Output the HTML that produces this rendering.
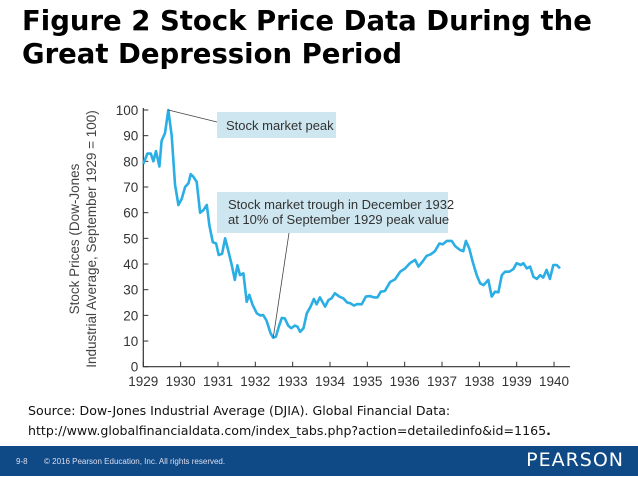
<!DOCTYPE html>
<html><head><meta charset="utf-8">
<style>
html,body{margin:0;padding:0;background:#fff;}
body{width:638px;height:479px;position:relative;overflow:hidden;}
.title{position:absolute;left:22px;top:5px;font-family:"DejaVu Sans","Liberation Sans",sans-serif;font-weight:bold;font-size:27.5px;line-height:33px;color:#000;margin:0;white-space:nowrap;}
.src{position:absolute;left:28px;top:401px;font-family:"DejaVu Sans","Liberation Sans",sans-serif;font-size:12.6px;line-height:20px;color:#111;white-space:nowrap;}
.footer{position:absolute;left:0;top:446px;width:638px;height:30px;background:#0f4a86;}
.pn{position:absolute;left:16px;top:11px;font-family:"Liberation Sans",sans-serif;font-size:8px;color:#dde;}
.copy{position:absolute;left:44px;top:11px;font-family:"Liberation Sans",sans-serif;font-size:8px;color:#dde;}
.logo{position:absolute;right:14px;top:3px;font-family:"DejaVu Sans","Liberation Sans",sans-serif;font-size:19px;color:#fff;letter-spacing:1px;}
</style></head><body>
<h1 class="title">Figure 2 Stock Price Data During the<br>Great Depression Period</h1>
<svg id="chart" width="638" height="400" style="position:absolute;left:0;top:0" font-family="Liberation Sans, sans-serif"></svg>
<div class="src">Source: Dow-Jones Industrial Average (DJIA). Global Financial Data:<br>http://www.globalfinancialdata.com/index_tabs.php?action=detailedinfo&amp;id=1165<b>.</b></div>
<div class="footer">
<span class="pn">9-8</span>
<span class="copy">© 2016 Pearson Education, Inc. All rights reserved.</span>
<span class="logo">PEARSON</span>
</div>
<script>
const years = [1929.00,1929.11,1929.20,1929.27,1929.34,1929.43,1929.49,1929.58,1929.67,1929.76,1929.85,1929.94,1930.03,1930.12,1930.21,1930.27,1930.34,1930.43,1930.52,1930.61,1930.70,1930.77,1930.86,1930.95,1931.02,1931.11,1931.19,1931.28,1931.37,1931.45,1931.52,1931.59,1931.68,1931.77,1931.84,1931.93,1932.04,1932.13,1932.21,1932.30,1932.41,1932.48,1932.55,1932.63,1932.71,1932.79,1932.88,1932.96,1933.06,1933.13,1933.20,1933.29,1933.38,1933.48,1933.57,1933.64,1933.73,1933.87,1933.96,1934.04,1934.13,1934.25,1934.36,1934.46,1934.55,1934.64,1934.73,1934.85,1934.96,1935.07,1935.18,1935.27,1935.36,1935.47,1935.61,1935.74,1935.88,1936.01,1936.14,1936.28,1936.37,1936.48,1936.59,1936.70,1936.81,1936.93,1937.02,1937.13,1937.26,1937.35,1937.48,1937.57,1937.64,1937.73,1937.82,1937.93,1938.02,1938.11,1938.24,1938.33,1938.42,1938.51,1938.60,1938.69,1938.80,1938.91,1939.00,1939.11,1939.18,1939.27,1939.36,1939.45,1939.54,1939.63,1939.71,1939.80,1939.89,1939.98,1940.07,1940.16];
const prices = [79,83,83,80,84,78,88,91,100,90,71,63,65.5,70,71.5,75,74,72,60,61,63,55,48.5,48,43.5,44,50,45,39.5,33.8,39.5,35.7,36.4,25.3,28,24,20.8,20,20.1,18,13,11.3,11.7,15.6,19,18.8,16,15,16,15.6,13.6,15,20.8,23.4,26.4,24.3,27,23.4,26,26.6,28.6,27.3,26.6,25,24.7,23.8,24.4,24.3,27.3,27.5,27,27,29.2,29.5,33,34,37,38.3,40.3,41.6,39,41,43.2,43.8,45,48,47.7,49,49,47,45.5,45,49,46,41,35.7,32.5,31.8,33.8,27.3,29.2,29,35.7,37,37,38,40.3,39.6,40.3,38.3,39,35,34.2,35.7,34.7,37.7,34.2,39.6,39.6,38.3];
const yTicks = [0,10,20,30,40,50,60,70,80,90,100];
const xTicks = [1929,1930,1931,1932,1933,1934,1935,1936,1937,1938,1939,1940];
const NS = 'http://www.w3.org/2000/svg';
const svg = document.getElementById('chart');
const x = v => 143.3 + (v - 1929) * 37.34;
const y = v => 366.7 - v * 2.567;
function mk(tag, attrs, parent){const e=document.createElementNS(NS,tag);for(const k in attrs)e.setAttribute(k,attrs[k]);(parent||svg).appendChild(e);return e;}
const b1 = mk('rect',{x:217,y:112,width:119,height:26,fill:'#cde6ef'});


const t1 = mk('text',{x:226,y:130,'font-size':13,fill:'#333'}); t1.textContent='Stock market peak';


const b2 = mk('rect',{x:217,y:192,width:231,height:41,fill:'#cde6ef'});


const t2 = mk('text',{x:228,y:209,'font-size':13,fill:'#333'}); t2.textContent='Stock market trough in December 1932';


const t3 = mk('text',{x:228,y:224,'font-size':13,fill:'#333'}); t3.textContent='at 10% of September 1929 peak value';


const ax = mk('path',{d:`M${x(1929)} ${y(100)-2} V${y(0)} H570`,stroke:'#333','stroke-width':1.2,fill:'none'});


yTicks.forEach(v=>{
  const tk = mk('line',{x1:x(1929),x2:x(1929)+5,y1:y(v),y2:y(v),stroke:'#333','stroke-width':1});
  
  
  const tl = mk('text',{x:x(1929)-5,y:y(v)+5,'font-size':13.5,'text-anchor':'end',fill:'#333'}); tl.textContent=v;
  
  
});
xTicks.forEach(v=>{
  const tk = mk('line',{x1:x(v),x2:x(v),y1:y(0),y2:y(0)-5,stroke:'#333','stroke-width':1});
  
  
  const tl = mk('text',{x:x(v),y:386,'font-size':13.5,'text-anchor':'middle',fill:'#333'}); tl.textContent=v;
  
  
});
const yt1 = mk('text',{transform:'translate(79,239) rotate(-90)','font-size':13.5,'text-anchor':'middle',fill:'#444'}); yt1.textContent='Stock Prices (Dow-Jones';


const yt2 = mk('text',{transform:'translate(96,239) rotate(-90)','font-size':13.5,'text-anchor':'middle',fill:'#444'}); yt2.textContent='Industrial Average, September 1929 = 100)';


const d = years.map((yr,i)=>(i?'L':'M')+x(yr).toFixed(1)+' '+y(prices[i]).toFixed(1)).join(' ');
const line = mk('path',{d:d,stroke:'#2aaee4','stroke-width':2.6,fill:'none','stroke-linejoin':'round'});


const pi = prices.indexOf(Math.max(...prices));
const l1 = mk('line',{x1:x(years[pi]),y1:y(prices[pi]),x2:217,y2:122,stroke:'#444','stroke-width':0.8});


const ti = prices.indexOf(Math.min(...prices));
const l2 = mk('line',{x1:289,y1:233,x2:x(years[ti]),y2:y(prices[ti]),stroke:'#444','stroke-width':0.8});


</script>
</body></html>
